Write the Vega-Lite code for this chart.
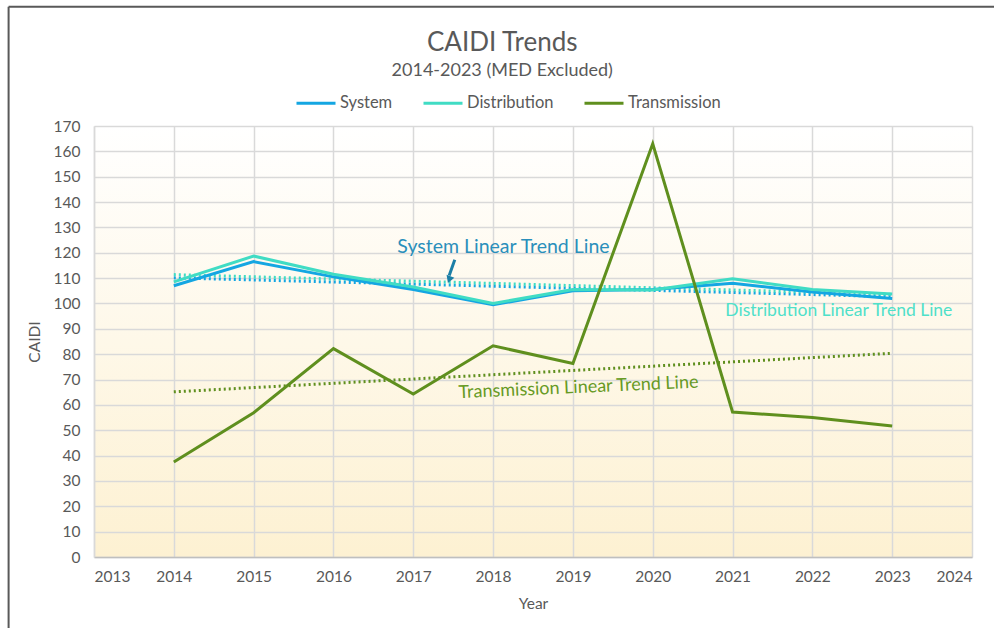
{
  "$schema": "https://vega.github.io/schema/vega-lite/v6.json",
  "autosize": "none",
  "width": 878,
  "height": 431,
  "padding": {"left": 94, "top": 126, "right": 22, "bottom": 71},
  "background": "white",
  "config": {
    "font": "Lato",
    "axis": {
      "labelFont": "Lato", "titleFont": "Lato",
      "grid": true, "gridColor": "#d9d9d9", "gridWidth": 1.5,
      "ticks": false, "domainWidth": 1.5,
      "labelFontSize": 15.5, "labelColor": "#595959",
      "titleFontSize": 15.5, "titleFontWeight": "normal", "titleColor": "#595959"
    },
    "axisX": {"domainColor": "#bfbfbf", "labelPadding": 12, "titlePadding": 12},
    "axisY": {"domainColor": "#d9d9d9", "labelPadding": 14, "titlePadding": 11}
  },
  "view": {
    "stroke": null,
    "fill": {"expr": "{gradient: 'linear', x1: 0, y1: 0, x2: 0, y2: 1, stops: [{offset: 0, color: '#ffffff'}, {offset: 1, color: '#fdf1d2'}]}"}
  },
  "title": {
    "text": "CAIDI Trends",
    "subtitle": "2014-2023 (MED Excluded)",
    "frame": "bounds",
    "anchor": "middle",
    "fontSize": 26,
    "fontWeight": "normal",
    "color": "#595959",
    "subtitleFontSize": 18,
    "subtitleColor": "#595959",
    "subtitlePadding": 6,
    "offset": 12,
    "dy": 86
  },
  "datasets": {
    "caidi": [
      {"year": 2014, "series": "System", "value": 107},
      {"year": 2015, "series": "System", "value": 116.5},
      {"year": 2016, "series": "System", "value": 110.5},
      {"year": 2017, "series": "System", "value": 105.5},
      {"year": 2018, "series": "System", "value": 99.5},
      {"year": 2019, "series": "System", "value": 105},
      {"year": 2020, "series": "System", "value": 105.5},
      {"year": 2021, "series": "System", "value": 108},
      {"year": 2022, "series": "System", "value": 104.5},
      {"year": 2023, "series": "System", "value": 102},
      {"year": 2014, "series": "Distribution", "value": 108.5},
      {"year": 2015, "series": "Distribution", "value": 118.7},
      {"year": 2016, "series": "Distribution", "value": 111.5},
      {"year": 2017, "series": "Distribution", "value": 106.5},
      {"year": 2018, "series": "Distribution", "value": 100},
      {"year": 2019, "series": "Distribution", "value": 105.5},
      {"year": 2020, "series": "Distribution", "value": 105.3},
      {"year": 2021, "series": "Distribution", "value": 109.7},
      {"year": 2022, "series": "Distribution", "value": 105.5},
      {"year": 2023, "series": "Distribution", "value": 103.7},
      {"year": 2014, "series": "Transmission", "value": 37.5},
      {"year": 2015, "series": "Transmission", "value": 56.9},
      {"year": 2016, "series": "Transmission", "value": 82.2},
      {"year": 2017, "series": "Transmission", "value": 64.3},
      {"year": 2018, "series": "Transmission", "value": 83.3},
      {"year": 2019, "series": "Transmission", "value": 76.3},
      {"year": 2020, "series": "Transmission", "value": 163},
      {"year": 2021, "series": "Transmission", "value": 57.2},
      {"year": 2022, "series": "Transmission", "value": 55},
      {"year": 2023, "series": "Transmission", "value": 51.7}
    ],
    "segments": [
      {"part": "arrow", "x": 2017.52, "y": 117.2, "x2": 2017.45, "y2": 111},
      {"part": "left border", "x": 2011.93, "y": 217, "x2": 2011.93, "y2": -28},
      {"part": "top border", "x": 2011.93, "y": 217, "x2": 2024.3, "y2": 217}
    ]
  },
  "layer": [
    {
      "data": {"name": "caidi"},
      "transform": [
        {"regression": "value", "on": "year", "groupby": ["series"], "extent": [2014, 2023]}
      ],
      "mark": {"type": "line", "strokeWidth": 3, "strokeDash": [2, 3]},
      "encoding": {
        "x": {
          "field": "year", "type": "quantitative",
          "scale": {"domain": [2013, 2024], "nice": false, "zero": false},
          "axis": {
            "title": "Year",
            "format": "d",
            "tickCount": 30,
            "values": [2013, 2014, 2015, 2016, 2017, 2018, 2019, 2020, 2021, 2022, 2023, 2024]
          }
        },
        "y": {
          "field": "value", "type": "quantitative",
          "scale": {"domain": [0, 170], "nice": false},
          "axis": {
            "title": "CAIDI",
            "tickCount": 30,
            "labelOverlap": false,
            "values": [0, 10, 20, 30, 40, 50, 60, 70, 80, 90, 100, 110, 120, 130, 140, 150, 160, 170]
          }
        },
        "color": {
          "field": "series", "type": "nominal",
          "scale": {"domain": ["System", "Distribution", "Transmission"], "range": ["#14a6e2", "#40dcc4", "#5f8f1e"]},
          "legend": {
            "title": null,
            "orient": "none",
            "legendX": 201,
            "legendY": -44,
            "direction": "horizontal",
            "symbolType": "stroke",
            "symbolSize": 1521,
            "symbolStrokeWidth": 3,
            "labelFontSize": 16.5,
            "labelColor": "#595959",
            "labelOffset": 3,
            "columnPadding": 24
          }
        }
      }
    },
    {
      "data": {"name": "caidi"},
      "mark": {"type": "line", "strokeWidth": 3},
      "encoding": {
        "x": {"field": "year", "type": "quantitative"},
        "y": {"field": "value", "type": "quantitative"},
        "color": {"field": "series", "type": "nominal"}
      }
    },
    {
      "data": {"values": [{"label": "System Linear Trend Line", "x": 2016.8, "y": 122.3}]},
      "mark": {"type": "text", "fontSize": 19.5, "align": "left", "baseline": "middle", "color": "#2a8fbb"},
      "encoding": {
        "x": {"field": "x", "type": "quantitative"},
        "y": {"field": "y", "type": "quantitative"},
        "text": {"field": "label"}
      }
    },
    {
      "data": {"values": [{"label": "Distribution Linear Trend Line", "x": 2020.91, "y": 97.0}]},
      "mark": {"type": "text", "fontSize": 17.5, "align": "left", "baseline": "middle", "color": "#4fe0c9"},
      "encoding": {
        "x": {"field": "x", "type": "quantitative"},
        "y": {"field": "y", "type": "quantitative"},
        "text": {"field": "label"}
      }
    },
    {
      "data": {"values": [{"label": "Transmission Linear Trend Line", "x": 2019.07, "y": 66.7}]},
      "mark": {"type": "text", "fontSize": 18, "align": "center", "baseline": "middle", "angle": -2.5, "color": "#669a24"},
      "encoding": {
        "x": {"field": "x", "type": "quantitative"},
        "y": {"field": "y", "type": "quantitative"},
        "text": {"field": "label"}
      }
    },
    {
      "data": {"name": "segments"},
      "transform": [{"filter": "datum.part === 'arrow'"}],
      "mark": {"type": "rule", "color": "#1b7ea6", "strokeWidth": 3},
      "encoding": {
        "x": {"field": "x", "type": "quantitative"},
        "y": {"field": "y", "type": "quantitative"},
        "x2": {"field": "x2"},
        "y2": {"field": "y2"}
      }
    },
    {
      "data": {"name": "segments"},
      "transform": [{"filter": "datum.part === 'arrow'"}],
      "mark": {"type": "point", "shape": "triangle-down", "filled": true, "color": "#1b7ea6", "size": 70, "angle": 21, "opacity": 1, "yOffset": 4},
      "encoding": {
        "x": {"field": "x2", "type": "quantitative"},
        "y": {"field": "y2", "type": "quantitative"}
      }
    },
    {
      "data": {"name": "segments"},
      "transform": [{"filter": "datum.part !== 'arrow'"}],
      "mark": {"type": "rule", "color": "#595959", "strokeWidth": 2, "clip": false},
      "encoding": {
        "x": {"field": "x", "type": "quantitative"},
        "y": {"field": "y", "type": "quantitative"},
        "x2": {"field": "x2"},
        "y2": {"field": "y2"}
      }
    }
  ]
}
